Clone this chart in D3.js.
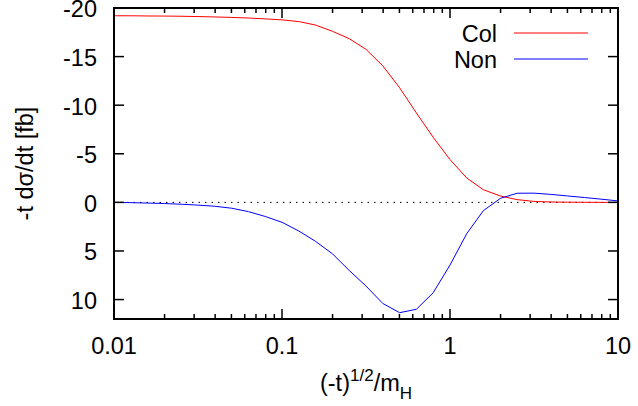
<!DOCTYPE html>
<html>
<head>
<meta charset="utf-8">
<script src="https://cdn.jsdelivr.net/npm/d3@7"></script>
<style>
  html, body { margin: 0; padding: 0; background: #fff; }
  svg { display: block; font-family: "Liberation Sans", Arial, sans-serif; }
</style>
</head>
<body>
<svg id="chart" width="638" height="406"></svg>
<script>
// ---- data ----
const xValues = [0.01, 0.0126, 0.0158, 0.02, 0.0251, 0.0316, 0.0398, 0.0501, 0.0631, 0.0794,
                 0.1, 0.126, 0.158, 0.2, 0.251, 0.316, 0.398, 0.501, 0.631, 0.794,
                 1, 1.26, 1.58, 2, 2.51, 3.16, 3.98, 5.01, 6.31, 7.94, 10];
const colValues = [-19.2, -19.2, -19.18, -19.17, -19.15, -19.12, -19.08, -19.03, -18.97, -18.88,
                   -18.78, -18.6, -18.25, -17.6, -16.85, -15.75, -14.05, -11.8, -9.2, -6.7,
                   -4.4, -2.5, -1.3, -0.65, -0.28, -0.1, -0.04, -0.02, -0.01, 0, 0];
const nonValues = [0, 0.03, 0.07, 0.12, 0.19, 0.28, 0.40, 0.6, 0.95, 1.45,
                   2.05, 2.95, 4.0, 5.3, 7.0, 8.6, 10.4, 11.35, 11.0, 9.3,
                   6.45, 3.2, 0.85, -0.42, -0.94, -0.95, -0.82, -0.66, -0.5, -0.33, -0.15];
const seriesNames = ["Col", "Non"];
const seriesColors = ["#ff0000", "#0000ff"];
const yTicks = [-20, -15, -10, -5, 0, 5, 10];
const xTicks = [0.01, 0.1, 1, 10];
const xTickLabels = ["0.01", "0.1", "1", "10"];

// ---- layout ----
const svg = d3.select("#chart");
const L = 114, R = 618, T = 8, B = 319;
const x = d3.scaleLog().domain([0.01, 10]).range([L, R]);
const y = d3.scaleLinear().domain([-20, 12]).range([T, B]);

const minorTicks = [];
for (let d = 0.01; d < 10; d *= 10) {
  for (let k = 2; k <= 9; k++) minorTicks.push(+(d * k).toPrecision(3));
}

const fs = 23.5;

// zero line
svg.append("line")
  .attr("x1", L).attr("x2", R).attr("y1", y(0)).attr("y2", y(0))
  .attr("stroke", "#000").attr("stroke-width", 1)
  .attr("stroke-dasharray", "1.5,5");

// curves
const line = d3.line().x(d => x(d[0])).y(d => y(d[1]));
[colValues, nonValues].forEach((vals, i) => {
  svg.append("path")
    .datum(xValues.map((xv, j) => [xv, vals[j]]))
    .attr("d", line)
    .attr("fill", "none")
    .attr("stroke", seriesColors[i])
    .attr("stroke-width", 1);
});

// ticks (inward, mirrored)
const tickG = svg.append("g").attr("stroke", "#000").attr("stroke-width", 1.5);
xTicks.forEach(t => {
  tickG.append("line").attr("x1", x(t)).attr("x2", x(t)).attr("y1", B).attr("y2", B - 10);
  tickG.append("line").attr("x1", x(t)).attr("x2", x(t)).attr("y1", T).attr("y2", T + 10);
});
minorTicks.forEach(t => {
  tickG.append("line").attr("x1", x(t)).attr("x2", x(t)).attr("y1", B).attr("y2", B - 5);
  tickG.append("line").attr("x1", x(t)).attr("x2", x(t)).attr("y1", T).attr("y2", T + 5);
});
yTicks.forEach(t => {
  tickG.append("line").attr("x1", L).attr("x2", L + 10).attr("y1", y(t)).attr("y2", y(t));
  tickG.append("line").attr("x1", R).attr("x2", R - 10).attr("y1", y(t)).attr("y2", y(t));
});

// border
svg.append("rect")
  .attr("x", L).attr("y", T).attr("width", R - L).attr("height", B - T)
  .attr("fill", "none").attr("stroke", "#000").attr("stroke-width", 2);

// tick labels
svg.append("g").selectAll("text").data(yTicks).join("text")
  .attr("x", 97).attr("y", d => y(d))
  .attr("dy", "0.4em")
  .attr("text-anchor", "end")
  .attr("font-size", fs)
  .text(d => d);

svg.append("g").selectAll("text").data(xTicks).join("text")
  .attr("x", d => x(d)).attr("y", 354)
  .attr("text-anchor", "middle")
  .attr("font-size", fs)
  .text((d, i) => xTickLabels[i]);

// axis labels
svg.append("text")
  .attr("transform", `translate(33, ${(T + B) / 2}) rotate(-90)`)
  .attr("text-anchor", "middle")
  .attr("font-size", fs)
  .text("-t dσ/dt [fb]");

const xl = svg.append("text")
  .attr("x", (L + R) / 2).attr("y", 391)
  .attr("text-anchor", "middle")
  .attr("font-size", fs);
xl.append("tspan").text("(-t)");
xl.append("tspan").attr("font-size", 17).attr("dy", -10).text("1/2");
xl.append("tspan").attr("dy", 10).text("/m");
xl.append("tspan").attr("font-size", 17).attr("dy", 8).text("H");

// legend
seriesNames.forEach((name, i) => {
  const ly = 33 + i * 26;
  svg.append("text")
    .attr("x", 497).attr("y", ly + 9)
    .attr("text-anchor", "end")
    .attr("font-size", fs)
    .text(name);
  svg.append("line")
    .attr("x1", 514).attr("x2", 588).attr("y1", ly).attr("y2", ly)
    .attr("stroke", seriesColors[i]).attr("stroke-width", 1);
});
</script>
</body>
</html>
